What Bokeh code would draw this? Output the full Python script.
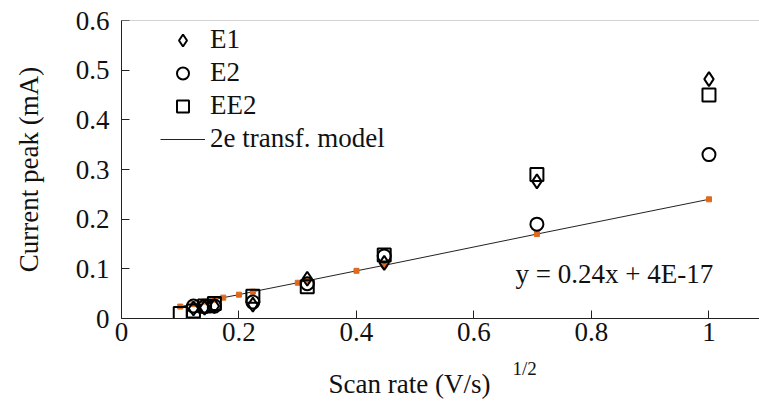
from bokeh.plotting import figure
from bokeh.models import Legend, LegendItem, Label, Span, FixedTicker
from bokeh.embed import file_html
from bokeh.resources import INLINE

# ---- data ----
e1_x = [0.1225, 0.1414, 0.1581, 0.2236, 0.3162, 0.4472, 0.7071, 1.0]
e1_y = [0.020, 0.022, 0.025, 0.028, 0.080, 0.112, 0.276, 0.482]
e2_x = [0.1225, 0.1414, 0.1581, 0.2236, 0.3162, 0.4472, 0.7071, 1.0]
e2_y = [0.025, 0.024, 0.025, 0.033, 0.070, 0.126, 0.190, 0.330]
ee2_x = [0.1, 0.1225, 0.1414, 0.1581, 0.2236, 0.3162, 0.4472, 0.7071, 1.0]
ee2_y = [0.010, 0.015, 0.025, 0.030, 0.045, 0.064, 0.128, 0.290, 0.450]
model_x = [0.1, 0.1225, 0.1414, 0.1581, 0.1732, 0.2, 0.2236, 0.3, 0.3162, 0.4, 0.4472, 0.7071, 1.0]
model_y = [0.024, 0.029, 0.034, 0.038, 0.042, 0.048, 0.054, 0.072, 0.076, 0.096, 0.107, 0.170, 0.240]
x_ticks = [0, 0.2, 0.4, 0.6, 0.8, 1.0]
x_tick_labels = ["0", "0.2", "0.4", "0.6", "0.8", "1"]
y_ticks = [0, 0.1, 0.2, 0.3, 0.4, 0.5, 0.6]
y_tick_labels = ["0", "0.1", "0.2", "0.3", "0.4", "0.5", "0.6"]
series_names = ["E1", "E2", "EE2", "2e transf. model"]
equation = "y = 0.24x + 4E-17"
x_title = "Scan rate (V/s)"
x_title_sup = "1/2"
y_title = "Current peak (mA)"

FONT = "Liberation Serif"
FS = "27px"

p = figure(width=759, height=415, x_range=(0, 1.086), y_range=(0, 0.6),
           output_backend="svg", toolbar_location=None,
           min_border_left=121, min_border_right=0, min_border_top=20, min_border_bottom=97)
p.outline_line_color = None
p.xgrid.visible = False
p.ygrid.visible = False

for ax in (p.xaxis[0], p.yaxis[0]):
    ax.axis_line_color = "#222222"
    ax.major_tick_line_color = "#222222"
    ax.major_tick_in = 8
    ax.major_tick_out = 0
    ax.minor_tick_line_color = None
    ax.major_label_text_font = FONT
    ax.major_label_text_font_size = FS
    ax.major_label_text_color = "#111111"
    ax.axis_label_text_font = FONT
    ax.axis_label_text_font_size = FS
    ax.axis_label_text_font_style = "normal"
    ax.axis_label_text_color = "#111111"

p.xaxis.ticker = FixedTicker(ticks=x_ticks)
p.yaxis.ticker = FixedTicker(ticks=y_ticks)
p.xaxis.major_label_overrides = dict(zip(x_ticks, x_tick_labels))
p.yaxis.major_label_overrides = dict(zip(y_ticks, y_tick_labels))
p.xaxis.major_label_standoff = 4
p.yaxis.major_label_standoff = 12
p.yaxis.axis_label = y_title
p.yaxis.axis_label_standoff = 29

p.add_layout(Span(location=0.6, dimension="width", line_color="#A8A8A8", line_width=1))

r_model = p.line(model_x, model_y, line_color="#222222", line_width=1)
p.scatter(model_x, model_y, marker="square", size=5, fill_color="#DD6A1F", line_color="#DD6A1F")
r_e1 = p.scatter(e1_x, e1_y, marker="diamond", size=14,
                 fill_color=None, line_color="black", line_width=2)
r_e2 = p.scatter(e2_x, e2_y, marker="circle", size=13,
                 fill_color=None, line_color="black", line_width=2)
r_ee2 = p.scatter(ee2_x, ee2_y, marker="square", size=13,
                  fill_color=None, line_color="black", line_width=2)

legend = Legend(items=[LegendItem(label=series_names[0], renderers=[r_e1]),
                       LegendItem(label=series_names[1], renderers=[r_e2]),
                       LegendItem(label=series_names[2], renderers=[r_ee2]),
                       LegendItem(label=series_names[3], renderers=[r_model])],
                location=(39, 164), glyph_width=45, glyph_height=30, label_height=30,
                spacing=2, label_standoff=5, padding=0, margin=0,
                border_line_color=None, background_fill_alpha=0,
                label_text_font=FONT, label_text_font_size=FS, label_text_color="#111111")
p.add_layout(legend)

p.add_layout(Label(x=394, y=45, x_units="screen", y_units="screen", text=equation,
                   text_font=FONT, text_font_size=FS, text_color="#111111",
                   text_baseline="alphabetic"))
p.add_layout(Label(x=207, y=-25, x_units="screen", y_units="screen", text=x_title,
                   text_font=FONT, text_font_size=FS, text_color="#111111",
                   text_baseline="bottom"), "below")
p.add_layout(Label(x=391, y=16, x_units="screen", y_units="screen", text=x_title_sup,
                   text_font=FONT, text_font_size="19px", text_color="#111111",
                   text_baseline="bottom"), "below")

open("out.html", "w").write(file_html(p, INLINE))
